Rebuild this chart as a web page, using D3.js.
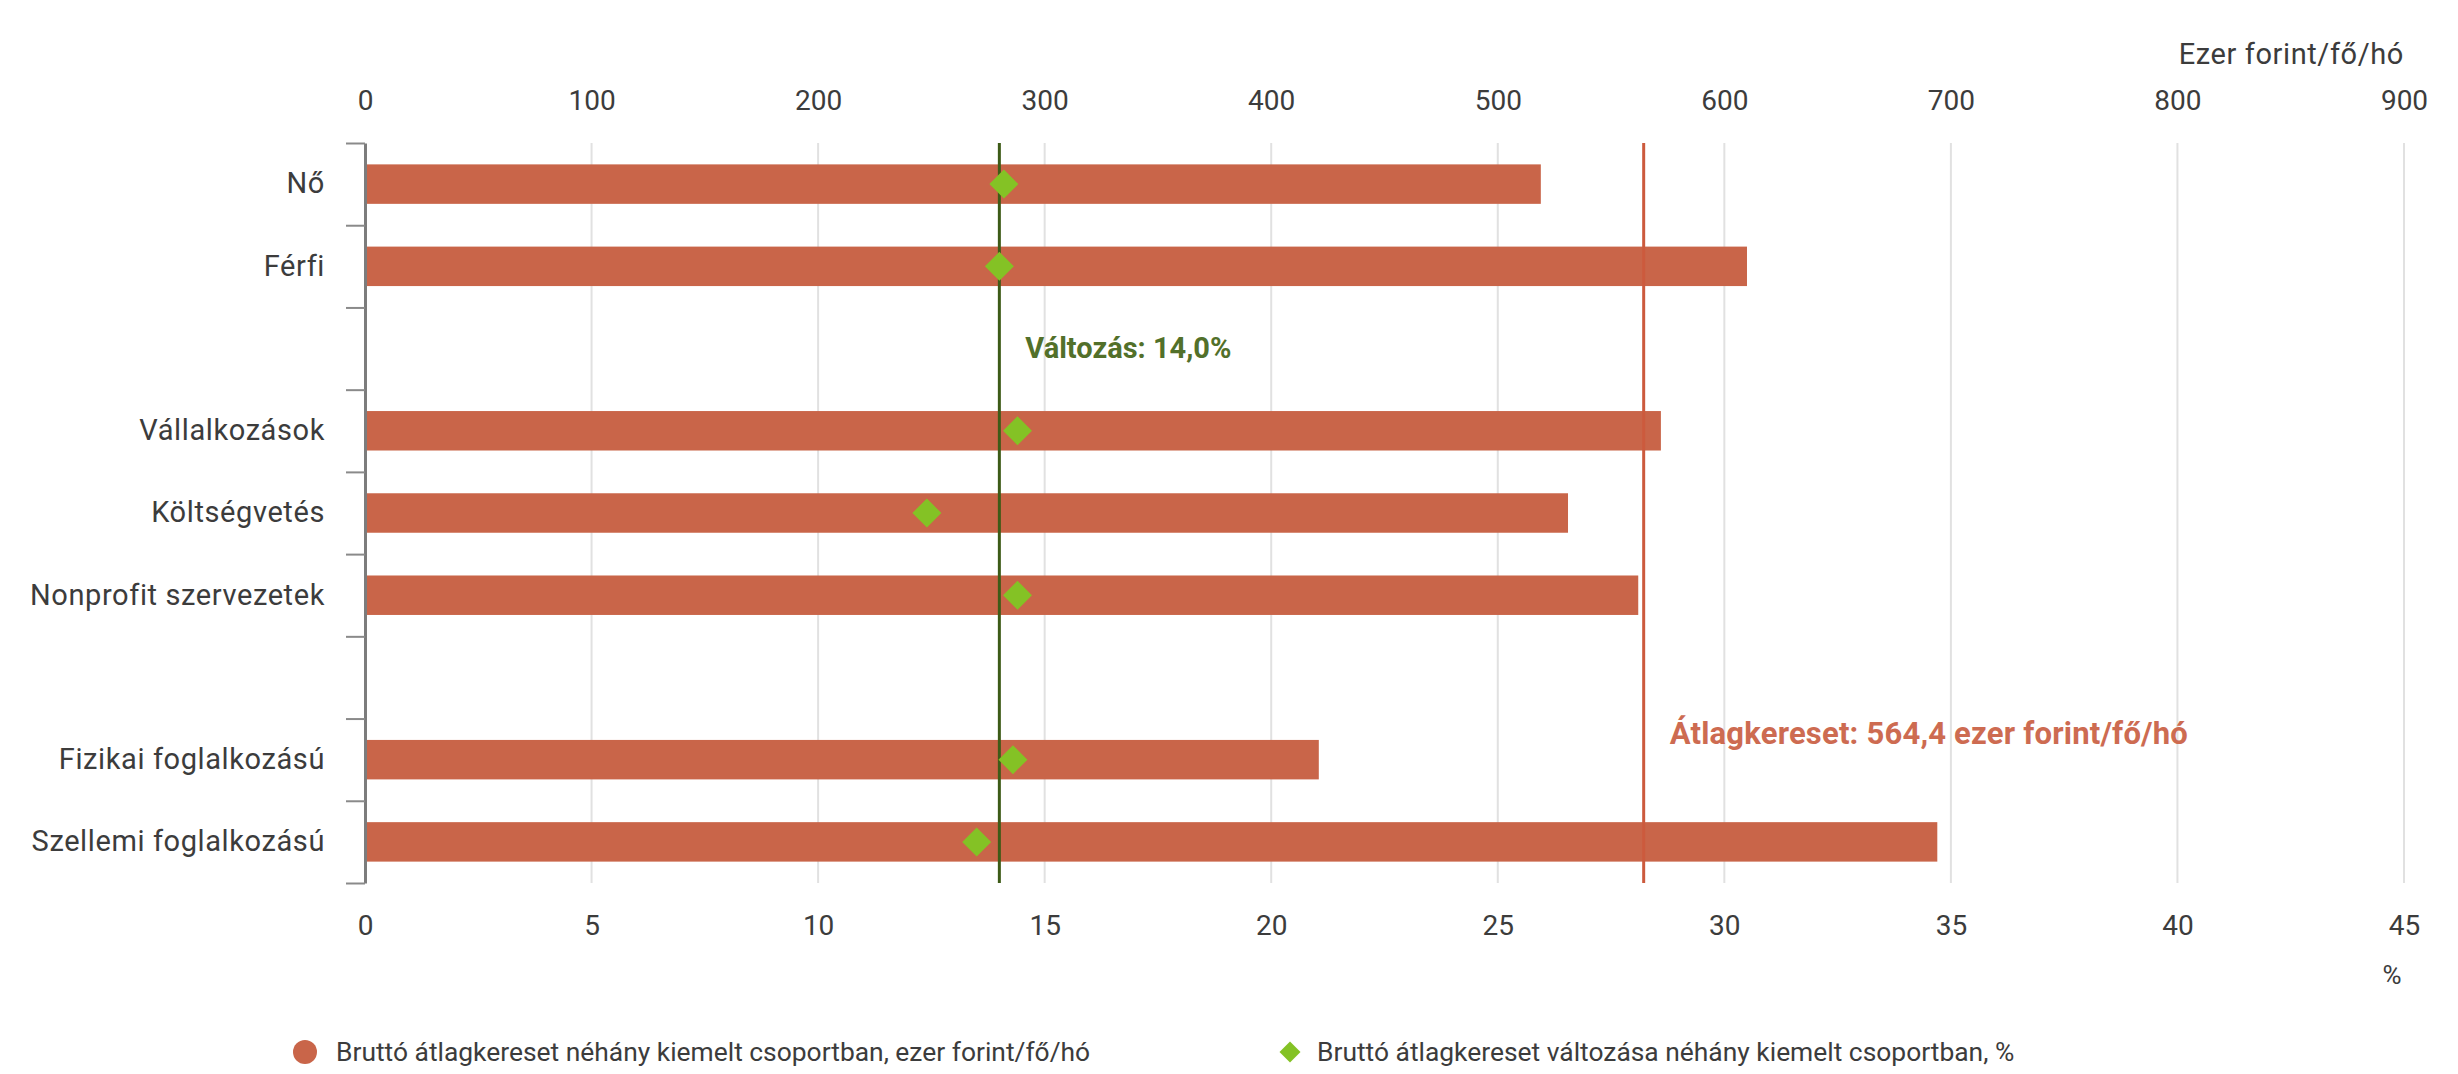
<!DOCTYPE html>
<html>
<head>
<meta charset="utf-8">
<script src="https://cdn.jsdelivr.net/npm/d3@7"></script>
<style>
  html, body { margin: 0; padding: 0; background: #ffffff; }
  svg { display: block; font-family: Roboto, "Noto Sans", sans-serif; }
</style>
</head>
<body>
<svg id="chart" width="2458" height="1074"></svg>
<script>
// ---- data ----
const categories = ["Nő", "Férfi", "", "Vállalkozások", "Költségvetés", "Nonprofit szervezetek", "", "Fizikai foglalkozású", "Szellemi foglalkozású"];
const wageValues = [519, 610, null, 572, 531, 562, null, 421, 694];          // ezer forint/fő/hó
const changeValues = [14.1, 14.0, null, 14.4, 12.4, 14.4, null, 14.3, 13.5]; // %
const averageWage = 564.4;
const averageChange = 14.0;
const topTicks = [0, 100, 200, 300, 400, 500, 600, 700, 800, 900];
const bottomTicks = [0, 5, 10, 15, 20, 25, 30, 35, 40, 45];
const topUnit = "Ezer forint/fő/hó";
const bottomUnit = "%";
const averageLabel = "Átlagkereset: 564,4 ezer forint/fő/hó";
const changeLabel = "Változás: 14,0%";
const legendLabels = ["Bruttó átlagkereset néhány kiemelt csoportban, ezer forint/fő/hó",
                      "Bruttó átlagkereset változása néhány kiemelt csoportban, %"];

(function () {
// ---- style ----
const barColor = "#c96549";
const diamondColor = "#84c225";
const greenLine = "#3d5b17";
const greenText = "#52702a";
const avgLine = "#cc5a3d";
const avgText = "#cd6b51";
const gridColor = "#e1e1e1";
const textColor = "#3c3c3c";

const svg = d3.select("#chart");
const pLeft = 365, pRight = 2404, pTop = 143, pBottom = 883;

const x = d3.scaleLinear().domain([0, 900]).range([pLeft, pRight]);
const xp = d3.scaleLinear().domain([0, 45]).range([pLeft, pRight]);
const idx = d3.range(categories.length);
const y = d3.scaleBand().domain(idx).range([pTop, pBottom]).paddingInner(0.52).paddingOuter(0.26);
const yb = d3.scaleLinear().domain([0, categories.length]).range([pTop, pBottom]);

// gridlines
svg.append("g").selectAll("line").data(topTicks.slice(1)).join("line")
  .attr("x1", d => x(d)).attr("x2", d => x(d))
  .attr("y1", pTop).attr("y2", pBottom)
  .attr("stroke", gridColor).attr("stroke-width", 2);

// top axis
const gTop = svg.append("g").attr("transform", "translate(0,110)")
  .call(d3.axisTop(x).tickValues(topTicks).tickSize(0).tickPadding(0));
gTop.select(".domain").remove();
gTop.selectAll("text").attr("font-size", 28).attr("fill", textColor).attr("font-family", "Roboto");

// bottom axis
const gBot = svg.append("g").attr("transform", `translate(0,${pBottom})`)
  .call(d3.axisBottom(xp).tickValues(bottomTicks).tickSize(0).tickPadding(32));
gBot.select(".domain").remove();
gBot.selectAll("text").attr("font-size", 28).attr("fill", textColor).attr("font-family", "Roboto");

// unit labels
svg.append("text").attr("x", pRight).attr("y", 64).attr("text-anchor", "end")
  .attr("font-size", 29).attr("letter-spacing", 0.6).attr("fill", textColor).text(topUnit);
svg.append("text").attr("x", xp(45) - 12).attr("y", 984).attr("text-anchor", "middle")
  .attr("font-size", 26).attr("fill", textColor).text(bottomUnit);

// bars
svg.append("g").selectAll("rect").data(idx.filter(i => wageValues[i] != null)).join("rect")
  .attr("x", x(0)).attr("y", i => y(i))
  .attr("width", i => x(wageValues[i]) - x(0))
  .attr("height", y.bandwidth())
  .attr("fill", barColor);

// average line
svg.append("line").attr("x1", x(averageWage)).attr("x2", x(averageWage))
  .attr("y1", pTop).attr("y2", pBottom).attr("stroke", avgLine).attr("stroke-width", 3);

// change line
svg.append("line").attr("x1", xp(averageChange)).attr("x2", xp(averageChange))
  .attr("y1", pTop).attr("y2", pBottom).attr("stroke", greenLine).attr("stroke-width", 3);

// diamonds
const diamond = d3.symbol().type(d3.symbolSquare).size(420);
svg.append("g").selectAll("path").data(idx.filter(i => changeValues[i] != null)).join("path")
  .attr("d", diamond)
  .attr("transform", i => `translate(${xp(changeValues[i])},${y(i) + y.bandwidth() / 2}) rotate(45)`)
  .attr("fill", diamondColor);

// left axis: tick marks at band boundaries
const gLeftTicks = svg.append("g").attr("transform", `translate(${pLeft},0)`)
  .call(d3.axisLeft(yb).tickValues(d3.range(categories.length + 1)).tickFormat("").tickSize(19).tickSizeOuter(0));
gLeftTicks.select(".domain").attr("stroke", "#7c7c7c").attr("stroke-width", 3);
gLeftTicks.selectAll(".tick line").attr("stroke", "#8a8a8a").attr("stroke-width", 2);

// left axis labels
const gLeft = svg.append("g").attr("transform", `translate(${pLeft},0)`)
  .call(d3.axisLeft(y).tickSize(0).tickPadding(40).tickFormat(i => categories[i]));
gLeft.select(".domain").remove();
gLeft.selectAll("text").attr("font-size", 29).attr("letter-spacing", 0.6)
  .attr("fill", textColor).attr("font-family", "Roboto");

// annotations
svg.append("text").attr("x", xp(averageChange) + 26).attr("y", 358)
  .attr("font-size", 29).attr("font-weight", "bold").attr("fill", greenText).text(changeLabel);
svg.append("text").attr("x", x(averageWage) + 26).attr("y", 744)
  .attr("font-size", 31).attr("font-weight", "bold").attr("letter-spacing", 0.2).attr("fill", avgText).text(averageLabel);

// legend
const lg = svg.append("g");
lg.append("circle").attr("cx", 305).attr("cy", 1052).attr("r", 12).attr("fill", barColor);
lg.append("text").attr("x", 336).attr("y", 1061).attr("font-size", 26.4).attr("fill", textColor).text(legendLabels[0]);
const dx = 1290;
lg.append("path").attr("d", d3.symbol().type(d3.symbolSquare).size(220))
  .attr("transform", `translate(${dx},1052) rotate(45)`).attr("fill", diamondColor);
lg.append("text").attr("x", dx + 27).attr("y", 1061).attr("font-size", 26.4).attr("fill", textColor).text(legendLabels[1]);
})();
</script>
</body>
</html>
